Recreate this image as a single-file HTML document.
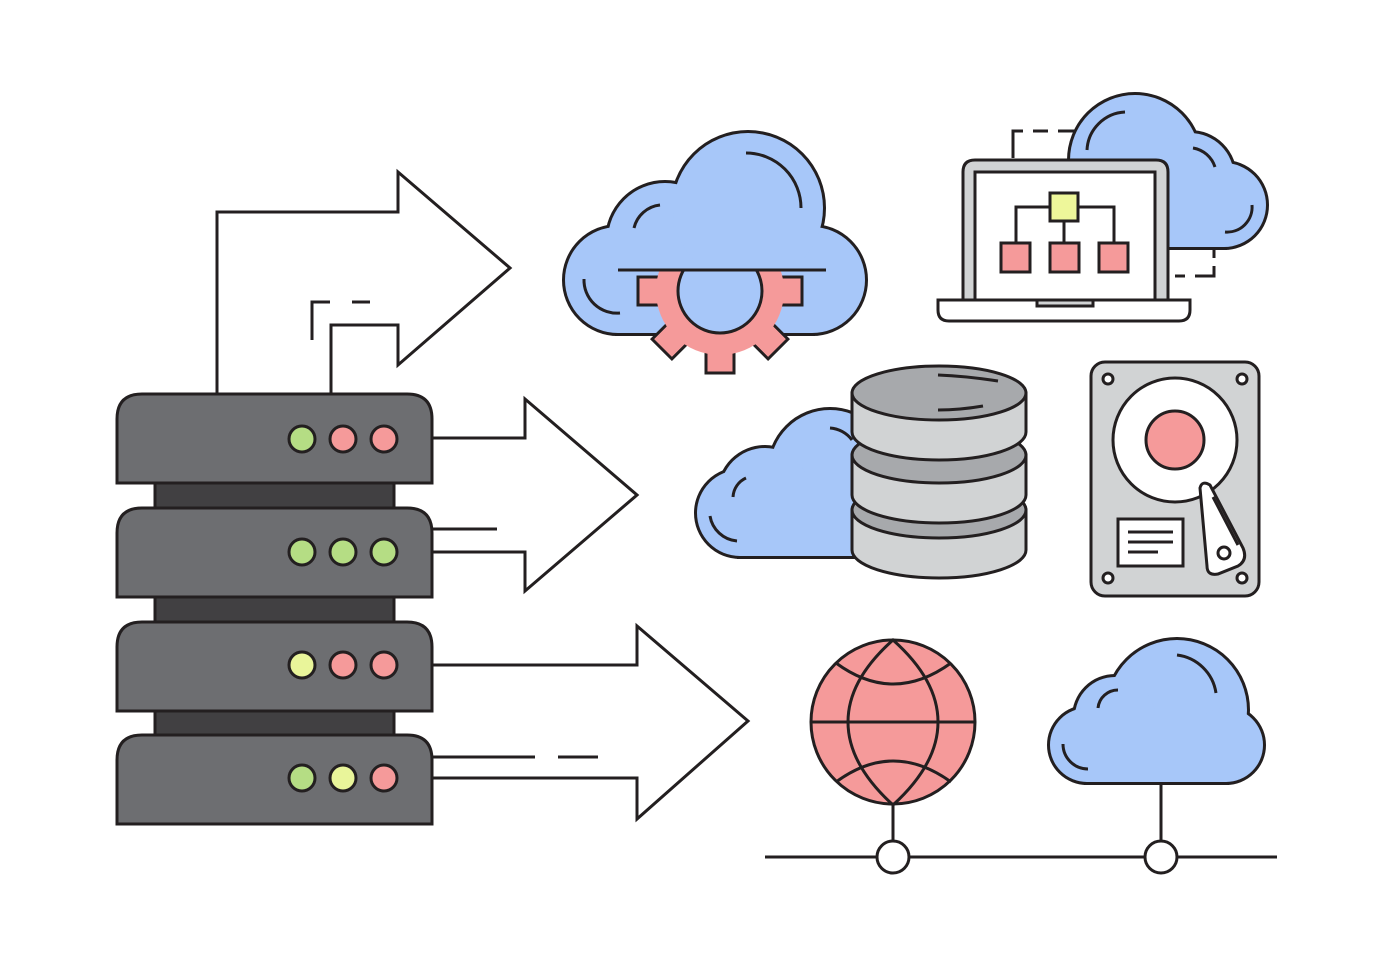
<!DOCTYPE html>
<html><head><meta charset="utf-8"><style>html,body{margin:0;padding:0;background:#fff}svg{display:block}</style></head>
<body>
<svg width="1400" height="980" viewBox="0 0 1400 980" xmlns="http://www.w3.org/2000/svg">
<defs>
<clipPath id="gclip"><rect x="600" y="270" width="240" height="120"/></clipPath>
</defs>
<g fill="none" stroke="#231f20" stroke-width="3" stroke-linejoin="miter">
<path d="M217,393 V212 H398 V172 L510,268 L398,365 V325 H331 V393" fill="#fff"/>
<path d="M312,340 V302 H330 M352,302 H370"/>
<path d="M432,438 H525 V399 L637,495 L525,591 V552 H432" fill="#fff"/>
<path d="M432,529 H497"/>
<path d="M432,665 H637 V626 L748,721 L637,819 V778 H432" fill="#fff"/>
<path d="M432,757 H535 M558,757 H598"/>
</g>

<g stroke="#231f20" stroke-width="3">
<rect x="155" y="483" width="239" height="25" fill="#414042"/>
<rect x="155" y="597" width="239" height="25" fill="#414042"/>
<rect x="155" y="711" width="239" height="25" fill="#414042"/>
<path d="M117,483 V419 Q117,394 142,394 H407 Q432,394 432,419 V483 Z" fill="#6d6e71"/>
<path d="M117,597 V533 Q117,508 142,508 H407 Q432,508 432,533 V597 Z" fill="#6d6e71"/>
<path d="M117,711 V647 Q117,622 142,622 H407 Q432,622 432,647 V711 Z" fill="#6d6e71"/>
<path d="M117,824 V760 Q117,735 142,735 H407 Q432,735 432,760 V824 Z" fill="#6d6e71"/>
<circle cx="302" cy="439" r="13" fill="#b5dd84"/><circle cx="343" cy="439" r="13" fill="#f59a9a"/><circle cx="384" cy="439" r="13" fill="#f59a9a"/>
<circle cx="302" cy="552" r="13" fill="#b5dd84"/><circle cx="343" cy="552" r="13" fill="#b5dd84"/><circle cx="384" cy="552" r="13" fill="#b5dd84"/>
<circle cx="302" cy="665" r="13" fill="#e9f59a"/><circle cx="343" cy="665" r="13" fill="#f59a9a"/><circle cx="384" cy="665" r="13" fill="#f59a9a"/>
<circle cx="302" cy="778" r="13" fill="#b5dd84"/><circle cx="343" cy="778" r="13" fill="#e9f59a"/><circle cx="384" cy="778" r="13" fill="#f59a9a"/>
</g>

<g fill="#a7c7f9" stroke="#231f20" stroke-width="6">
<circle cx="618" cy="280" r="53"/><circle cx="812" cy="280" r="53"/><circle cx="665" cy="240" r="57"/><circle cx="748" cy="208" r="75"/><rect x="618" y="260" width="194" height="73"/>
</g>
<g fill="#a7c7f9">
<circle cx="618" cy="280" r="53"/><circle cx="812" cy="280" r="53"/><circle cx="665" cy="240" r="57"/><circle cx="748" cy="208" r="75"/><rect x="618" y="260" width="194" height="73"/>
</g>
<g stroke="#231f20" stroke-width="3" fill="none">
<path d="M746,153 A55,55 0 0 1 801,208"/>
<path d="M660,205 A30,30 0 0 0 634,228"/>
<path d="M584,279 A33,33 0 0 0 620,313"/>
</g>
<g clip-path="url(#gclip)">
<g fill="#f59a9a" stroke="#231f20" stroke-width="3">
<g transform="translate(720,291)">
<rect x="-14" y="-82" width="28" height="164"/>
<rect x="-14" y="-82" width="28" height="164" transform="rotate(45)"/>
<rect x="-14" y="-82" width="28" height="164" transform="rotate(90)"/>
<rect x="-14" y="-82" width="28" height="164" transform="rotate(135)"/>
</g>
</g>
<g fill="#f59a9a"><g transform="translate(720,291)">
<rect x="-12.5" y="-80.5" width="25" height="161"/>
<rect x="-12.5" y="-80.5" width="25" height="161" transform="rotate(45)"/>
<rect x="-12.5" y="-80.5" width="25" height="161" transform="rotate(90)"/>
<rect x="-12.5" y="-80.5" width="25" height="161" transform="rotate(135)"/>
</g></g>
<circle cx="720" cy="291" r="64" fill="#f59a9a"/>
<circle cx="720" cy="291" r="42" fill="#a7c7f9" stroke="#231f20" stroke-width="3"/>
</g>
<line x1="618" y1="270" x2="826" y2="270" stroke="#231f20" stroke-width="3"/>

<g fill="#a7c7f9" stroke="#231f20" stroke-width="6">
<circle cx="1135" cy="160" r="65"/><circle cx="1190" cy="177" r="44"/><circle cx="1224" cy="205" r="42"/><rect x="1090" y="180" width="134" height="67"/>
</g>
<g fill="#a7c7f9">
<circle cx="1135" cy="160" r="65"/><circle cx="1190" cy="177" r="44"/><circle cx="1224" cy="205" r="42"/><rect x="1090" y="180" width="134" height="67"/>
</g>
<g stroke="#231f20" stroke-width="3" fill="none">
<path d="M1087,150 A40,40 0 0 1 1125,112"/>
<path d="M1193,148 A28,28 0 0 1 1215,167"/>
<path d="M1252,205 A25,25 0 0 1 1225,232"/>
<path d="M1013,158 V131 H1023 M1033,131 H1048 M1058,131 H1075" />
<path d="M1175,276 H1185 M1195,276 H1214 V266 M1214,258 V248"/>
</g>
<g stroke="#231f20" stroke-width="3">
<path d="M963,300 V172 Q963,160 975,160 H1156 Q1168,160 1168,172 V300 Z" fill="#d1d3d4"/>
<rect x="975" y="172" width="180" height="128" fill="#fff"/>
<path d="M938,300 H1190 V310 Q1190,321 1179,321 H949 Q938,321 938,310 Z" fill="#fff"/>
<rect x="1037" y="300" width="56" height="6" fill="#d1d3d4"/>
<path d="M1016,243 V207 H1114 V243 M1064,221 V243" fill="none"/>
<rect x="1050" y="193" width="28" height="28" fill="#eef79a"/>
<rect x="1001" y="243" width="29" height="29" fill="#f59a9a"/>
<rect x="1050" y="243" width="29" height="29" fill="#f59a9a"/>
<rect x="1099" y="243" width="29" height="29" fill="#f59a9a"/>
</g>

<g fill="#a7c7f9" stroke="#231f20" stroke-width="6">
<circle cx="830" cy="470" r="60"/><circle cx="765" cy="493" r="45"/><circle cx="740" cy="513" r="43"/><rect x="740" y="480" width="120" height="76"/>
</g>
<g fill="#a7c7f9">
<circle cx="830" cy="470" r="60"/><circle cx="765" cy="493" r="45"/><circle cx="740" cy="513" r="43"/><rect x="740" y="480" width="120" height="76"/>
</g>
<g stroke="#231f20" stroke-width="3" fill="none">
<path d="M830,428 A30,30 0 0 1 852,440"/>
<path d="M746,478 A22,22 0 0 0 733,497"/>
<path d="M710,516 A30,30 0 0 0 737,541"/>
</g>
<g stroke="#231f20" stroke-width="3">
<path d="M852,510 V550 A87,28 0 0 0 1026,550 V510 Z" fill="#d1d3d4"/>
<ellipse cx="939" cy="510" rx="87" ry="28" fill="#a7a9ac"/>
<path d="M852,455 V495 A87,28 0 0 0 1026,495 V455 Z" fill="#d1d3d4"/>
<ellipse cx="939" cy="455" rx="87" ry="28" fill="#a7a9ac"/>
<path d="M852,393 V432 A87,28 0 0 0 1026,432 V393 Z" fill="#d1d3d4"/>
<ellipse cx="939" cy="393" rx="87" ry="27" fill="#a7a9ac"/>
<path d="M938,410 Q960,410 983,406 M938,375 Q965,376 998,381" fill="none"/>
</g>

<g stroke="#231f20" stroke-width="3">
<rect x="1091" y="362" width="168" height="234" rx="14" fill="#d1d3d4"/>
<circle cx="1108" cy="379" r="5" fill="#fff"/><circle cx="1242" cy="379" r="5" fill="#fff"/>
<circle cx="1108" cy="578" r="5" fill="#fff"/><circle cx="1242" cy="578" r="5" fill="#fff"/>
<circle cx="1175" cy="440" r="62" fill="#fff"/>
<circle cx="1175" cy="440" r="29" fill="#f59a9a"/>
<path d="M1200,488 Q1202,480 1210,485 L1243,548 Q1248,560 1238,566 L1218,574 Q1207,576 1207,566 Z" fill="#fff"/>
<path d="M1213,497 L1238,545" fill="none"/>
<circle cx="1224" cy="553" r="6" fill="#fff"/>
<rect x="1118" y="519" width="65" height="47" fill="#fff"/>
<path d="M1128,532 H1173 M1128,542 H1173 M1128,552 H1158" fill="none"/>
</g>

<g stroke="#231f20" stroke-width="3">
<circle cx="893" cy="722" r="82" fill="#f59a9a"/>
<path d="M893,640 Q848,680 848,722 Q848,764 893,805 Q938,764 938,722 Q938,680 893,640 Z" fill="none"/>
<path d="M811,722 H975 M836,663 Q893,705 951,663 M836,782 Q893,740 951,782" fill="none"/>
<path d="M893,805 V841" fill="none"/>
</g>

<g fill="#a7c7f9" stroke="#231f20" stroke-width="6">
<circle cx="1177" cy="710" r="70"/><circle cx="1115" cy="717" r="40"/><circle cx="1087" cy="745" r="37"/><circle cx="1226" cy="745" r="37"/><rect x="1087" y="720" width="139" height="62"/>
</g>
<g fill="#a7c7f9">
<circle cx="1177" cy="710" r="70"/><circle cx="1115" cy="717" r="40"/><circle cx="1087" cy="745" r="37"/><circle cx="1226" cy="745" r="37"/><rect x="1087" y="720" width="139" height="62"/>
</g>
<g stroke="#231f20" stroke-width="3" fill="none">
<path d="M1177,655 A45,45 0 0 1 1216,693"/>
<path d="M1118,690 A20,20 0 0 0 1098,708"/>
<path d="M1063,744 A25,25 0 0 0 1088,769"/>
<path d="M1161,782 V841"/>
<path d="M765,857 H1277"/>
</g>
<circle cx="893" cy="857" r="16" fill="#fff" stroke="#231f20" stroke-width="3"/>
<circle cx="1161" cy="857" r="16" fill="#fff" stroke="#231f20" stroke-width="3"/>
</svg>
</body></html>
